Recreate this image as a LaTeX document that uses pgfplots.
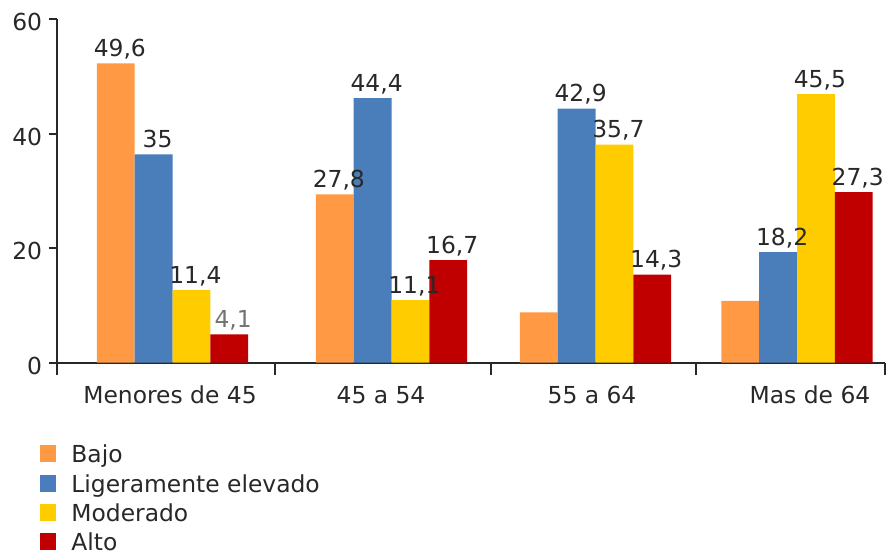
\documentclass[border=0pt]{standalone}
\usepackage{pgfplots}
\pgfplotsset{compat=1.18}
\usepackage{fontspec}
\setmainfont{DejaVu Sans}
\definecolor{cBajo}{RGB}{255,153,68}
\definecolor{cLig}{RGB}{74,126,187}
\definecolor{cMod}{RGB}{255,204,0}
\definecolor{cAlto}{RGB}{192,0,0}
\definecolor{txt}{RGB}{40,40,40}
\newcommand\chartfont{\fontsize{11.7pt}{14pt}\selectfont}
\begin{document}
\begin{tikzpicture}[font=\chartfont, text=txt]
\useasboundingbox (-28.5pt,-95.65pt) rectangle (418pt,181.35pt);
\begin{axis}[
  scale only axis, width=414pt, height=171.75pt,
  xmin=57, xmax=885, ymin=0, ymax=60,
  clip=false,
  axis x line*=bottom, axis y line*=left,
  axis line style={txt, line width=0.8pt},
  tick align=outside,
  ytick={0,20,40,60},
  /pgf/number format/assume math mode=true,
  yticklabel style={font=\chartfont, text=txt, anchor=east, inner sep=0pt, xshift=-3pt, yshift=-1.5pt},
  xtick={57,275,491,696,885}, xticklabels={},
  extra x ticks={170,381,592,810},
  extra x tick labels={Menores de 45,45 a 54,55 a 64,Mas de 64},
  extra x tick style={major tick length=0pt, tick style={draw=none},
     xticklabel style={font=\chartfont, text=txt, anchor=base, yshift=-20.15pt, inner sep=0pt}},
  xtick style={txt, line width=0.8pt, /pgfplots/major tick length=6.3pt},
  ytick style={txt, line width=0.8pt, /pgfplots/major tick length=4.2pt},
  ybar=0pt, bar width=18.9pt,
  point meta=explicit symbolic,
  nodes near coords,
  nodes near coords style={font=\chartfont, text=txt, anchor=base, inner sep=0pt, yshift=3.5pt, xshift=2pt},
  legend style={at={(-0.0278,-0.2265)}, anchor=north west, draw=none, fill=none,
     font=\chartfont, text=txt, row sep=3.1pt,
     nodes={inner sep=0pt, text height=9pt, text depth=2.5pt},
     /tikz/every odd column/.append style={column sep=7.5pt}},
  legend cell align=left,
  legend image code/.code={\fill[draw=none] (0pt,-3pt) rectangle (8pt,5.5pt);},
]
\addplot[fill=cBajo, draw=none] coordinates {(172.5,52.3) [49,6] (391.5,29.4) [27,8] (595.5,8.8) [{}] (797,10.8) [{}]};
\addplot[fill=cLig, draw=none] coordinates {(172.5,36.4) [35] (391.5,46.2) [44,4] (595.5,44.4) [42,9] (797,19.3) [18,2]};
\addplot[fill=cMod, draw=none] coordinates {(172.5,12.7) [11,4] (391.5,10.95) [11,1] (595.5,38.1) [35,7] (797,46.9) [45,5]};
\addplot[fill=cAlto, draw=none] coordinates {(172.5,4.96) [{\color{black!55}4,1}] (391.5,17.9) [16,7] (595.5,15.4) [14,3] (797,29.8) [27,3]};
\legend{Bajo,Ligeramente elevado,Moderado,Alto}
\end{axis}
\end{tikzpicture}
\end{document}
